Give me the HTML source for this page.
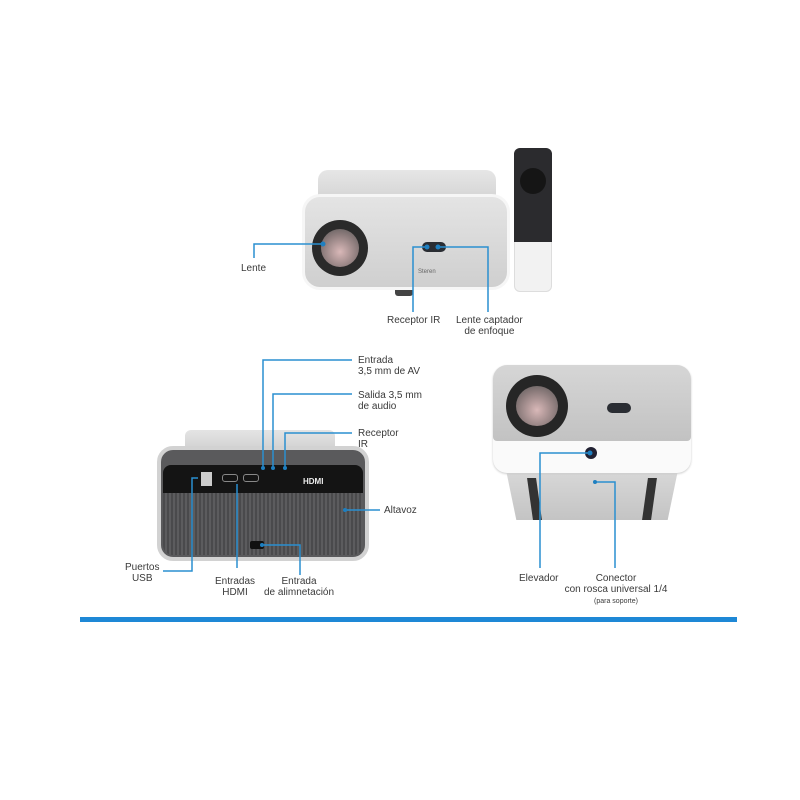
<!DOCTYPE html>
<html><head><style>
body{margin:0;width:800px;height:800px;background:#fff;position:relative;overflow:hidden;font-family:"Liberation Sans",sans-serif;color:#333}
.a{position:absolute}
.t{position:absolute;font-size:10px;line-height:11px;color:#3a3a3a}
</style></head><body>
<!-- top projector -->
<div class="a" style="left:318px;top:170px;width:178px;height:30px;background:linear-gradient(#e6e6e6,#d4d4d4);border-radius:10px 10px 0 0"></div>
<div class="a" style="left:302px;top:194px;width:208px;height:96px;background:linear-gradient(#e4e4e4,#cfcfcf);border-radius:18px;border:3px solid #f6f6f6;box-sizing:border-box"></div>
<div class="a" style="left:312px;top:220px;width:56px;height:56px;border-radius:50%;background:#2a2a2a"></div>
<div class="a" style="left:321px;top:229px;width:38px;height:38px;border-radius:50%;background:radial-gradient(circle at 50% 60%,#d9b8b8,#8a7a7a 60%,#555)"></div>
<div class="a" style="left:422px;top:242px;width:24px;height:10px;border-radius:5px;background:#2a2d33"></div>
<div class="t" style="left:418px;top:267px;font-size:6px;color:#666">Steren</div>
<div class="a" style="left:395px;top:290px;width:18px;height:6px;background:#444;border-radius:0 0 3px 3px"></div>
<!-- remote -->
<div class="a" style="left:514px;top:148px;width:38px;height:144px;border-radius:6px;background:#f2f2f2;border:1px solid #ddd;box-sizing:border-box"></div>
<div class="a" style="left:514px;top:148px;width:38px;height:94px;border-radius:6px 6px 0 0;background:#2b2b2e"></div>
<div class="a" style="left:520px;top:168px;width:26px;height:26px;border-radius:50%;background:#151515"></div>
<div class="t" style="left:41px;top:0;display:none"></div>
<div class="t" style="left:241px;top:263px">Lente</div>
<div class="t" style="left:387px;top:315px">Receptor IR</div>
<div class="t" style="left:456px;top:315px;text-align:center">Lente captador<br>de enfoque</div>
<!-- bottom-left projector -->
<div class="a" style="left:185px;top:430px;width:150px;height:22px;background:linear-gradient(#e4e4e4,#cfcfcf);border-radius:6px 6px 0 0"></div>
<div class="a" style="left:157px;top:446px;width:212px;height:115px;background:#5a5a5c;border-radius:16px;border:4px solid #d2d2d2;box-sizing:border-box"></div>
<div class="a" style="left:163px;top:465px;width:200px;height:28px;background:#141414;border-radius:8px 8px 0 0"></div>
<div class="a" style="left:163px;top:493px;width:200px;height:62px;background:repeating-linear-gradient(90deg,#4a4a4c 0 2px,#5c5c5e 2px 4px);border-radius:0 0 10px 10px"></div>
<div class="a" style="left:201px;top:472px;width:11px;height:14px;background:#ccc"></div>
<div class="a" style="left:222px;top:474px;width:14px;height:6px;border:1px solid #888;border-radius:3px"></div>
<div class="a" style="left:243px;top:474px;width:14px;height:6px;border:1px solid #888;border-radius:3px"></div>
<div class="t" style="left:303px;top:476px;font-size:8px;font-weight:bold;color:#eee">HDMI</div>
<div class="a" style="left:250px;top:541px;width:14px;height:8px;background:#111;border-radius:2px"></div>
<div class="t" style="left:358px;top:355px">Entrada<br>3,5 mm de AV</div>
<div class="t" style="left:358px;top:390px">Salida 3,5 mm<br>de audio</div>
<div class="t" style="left:358px;top:428px">Receptor<br>IR</div>
<div class="t" style="left:384px;top:505px">Altavoz</div>
<div class="t" style="left:125px;top:562px;text-align:center">Puertos<br>USB</div>
<div class="t" style="left:215px;top:576px;text-align:center">Entradas<br>HDMI</div>
<div class="t" style="left:264px;top:576px;text-align:center">Entrada<br>de alimnetación</div>
<!-- right projector -->
<div class="a" style="left:506px;top:470px;width:172px;height:50px;background:linear-gradient(#d8d8d8,#c4c4c4);clip-path:polygon(0 0,100% 0,94% 100%,6% 100%)"></div>
<div class="a" style="left:530px;top:478px;width:9px;height:42px;background:#333;transform:skewX(8deg)"></div>
<div class="a" style="left:645px;top:478px;width:9px;height:42px;background:#333;transform:skewX(-8deg)"></div>
<div class="a" style="left:493px;top:365px;width:198px;height:108px;background:#fafafa;border-radius:14px;box-shadow:0 1px 2px #ccc"></div>
<div class="a" style="left:493px;top:365px;width:198px;height:76px;background:linear-gradient(#d6d6d6,#c2c2c2);border-radius:14px 14px 4px 4px"></div>
<div class="a" style="left:506px;top:375px;width:62px;height:62px;border-radius:50%;background:#262626"></div>
<div class="a" style="left:516px;top:386px;width:42px;height:40px;border-radius:50%;background:radial-gradient(circle at 50% 60%,#d9b8b8,#8a7a7a 60%,#555)"></div>
<div class="a" style="left:607px;top:403px;width:24px;height:10px;border-radius:5px;background:#2a2d33"></div>
<div class="a" style="left:585px;top:447px;width:12px;height:12px;border-radius:50%;background:#223"></div>
<div class="t" style="left:519px;top:573px">Elevador</div>
<div class="t" style="left:563px;top:573px;text-align:center;width:106px">Conector<br>con rosca universal 1/4<br><span style="font-size:7px">(para soporte)</span></div>
<!-- blue bar -->
<div class="a" style="left:80px;top:617px;width:657px;height:5px;background:#1e88d6"></div>
<!-- callouts on top -->
<svg class="a" style="left:0;top:0" width="800" height="800">
<g stroke="#2a8fd0" stroke-width="1.5" fill="none">
<polyline points="323,244 254,244 254,258"/>
<polyline points="427,247 413,247 413,312"/>
<polyline points="438,247 488,247 488,312"/>
<polyline points="352,360 263,360 263,468"/>
<polyline points="352,394 273,394 273,468"/>
<polyline points="352,433 285,433 285,468"/>
<polyline points="345,510 380,510"/>
<polyline points="198,478 192,478 192,571 163,571"/>
<polyline points="237,484 237,568"/>
<polyline points="262,545 300,545 300,575"/>
<polyline points="590,453 540,453 540,568"/>
<polyline points="595,482 615,482 615,568"/>
</g>
<g fill="#1e7fc0"><circle cx="323" cy="244" r="2.5"/><circle cx="427" cy="247" r="2.5"/><circle cx="438" cy="247" r="2.5"/><circle cx="263" cy="468" r="2"/><circle cx="273" cy="468" r="2"/><circle cx="285" cy="468" r="2"/><circle cx="345" cy="510" r="2"/><circle cx="262" cy="545" r="2"/><circle cx="590" cy="453" r="2.5"/><circle cx="595" cy="482" r="2"/></g>
</svg>
</body></html>
